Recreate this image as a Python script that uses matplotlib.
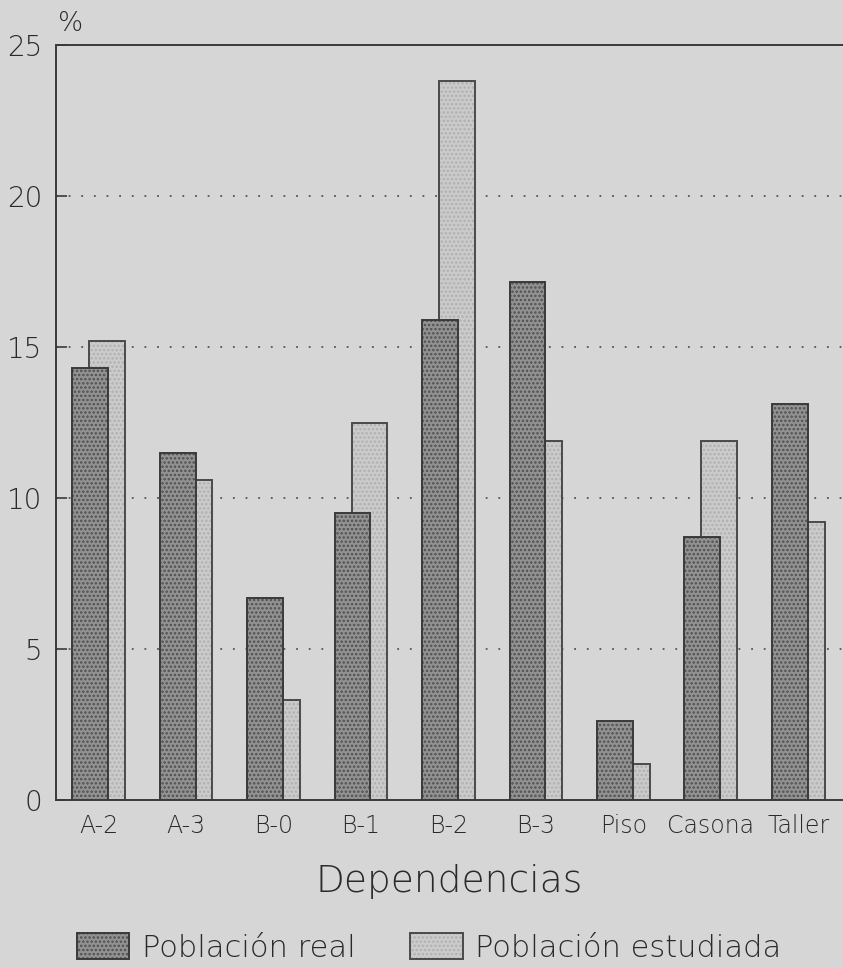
import numpy as np
import matplotlib
matplotlib.use('Agg')
import matplotlib.pyplot as plt
from matplotlib.legend_handler import HandlerTuple

categorias = ['A-2', 'A-3', 'B-0', 'B-1', 'B-2', 'B-3', 'Piso', 'Casona', 'Taller']
pob_real = [14.3, 11.5, 6.7, 9.5, 15.9, 17.15, 2.6, 8.7, 13.1]
pob_estudiada = [15.2, 10.6, 3.3, 12.5, 23.8, 11.9, 1.2, 11.9, 9.2]
yticks = [0, 5, 10, 15, 20, 25]

bg = '#d6d6d6'
txt = '#2a2a2a'
plt.rcParams['font.family'] = ['DejaVu Sans']
plt.rcParams['font.weight'] = 200
plt.rcParams['hatch.linewidth'] = 1.2

fig = plt.figure(figsize=(8.43, 9.68), dpi=100, facecolor=bg)
ax = fig.add_axes([56/843, 1-800/968, 1-56/843, (800-45)/968])
ax.set_facecolor(bg)

x = np.arange(len(categorias))
w = 0.41
off = 0.097

# light bars behind, dark bars in front
lf = ax.bar(x + off, pob_estudiada, w, color='#cbcbcb', hatch='....', edgecolor='#b0b0b0', lw=0, zorder=2)
le = ax.bar(x + off, pob_estudiada, w, fill=False, edgecolor='#4a4a4a', lw=1.4, zorder=2.1)
df = ax.bar(x - off, pob_real, w, color='#929292', hatch='....', edgecolor='#505050', lw=0, zorder=3)
de = ax.bar(x - off, pob_real, w, fill=False, edgecolor='#3a3a3a', lw=1.4, zorder=3.1)

ax.set_xlim(-0.487, 8.51)
ax.set_ylim(0, 25)
ax.set_yticks(yticks)
ax.set_xticks(x)
ax.set_xticklabels(categorias)
for yv in yticks[1:-1]:
    ax.axhline(yv, color='#555555', lw=1.3, ls=(0, (1, 6)), zorder=1)

ax.tick_params(axis='both', direction='in', length=8, width=1.2, color='#3a3a3a',
               labelcolor=txt)
ax.tick_params(axis='y', labelsize=20, pad=10)
ax.tick_params(axis='x', labelsize=17, pad=10)
for s in ['left', 'top', 'bottom']:
    ax.spines[s].set_color('#3a3a3a')
    ax.spines[s].set_linewidth(1.4)
ax.spines['right'].set_visible(False)

ax.text(0.003, 1.012, '%', transform=ax.transAxes, fontsize=19, color=txt, ha='left', va='bottom')
ax.set_xlabel('Dependencias', fontsize=27, color=txt, labelpad=19, fontweight=200)

fig.legend([(df[0], de[0]), (lf[0], le[0])], ['Población real', 'Población estudiada'],
           handler_map={tuple: HandlerTuple(ndivide=1, pad=0)},
           loc='center', bbox_to_anchor=(0.509, 0.021), ncol=2, frameon=False,
           fontsize=22, handlelength=1.73, handleheight=0.95, handletextpad=0.4,
           columnspacing=1.8, labelcolor=txt)

fig.savefig('out.png', dpi=100, facecolor=bg)
